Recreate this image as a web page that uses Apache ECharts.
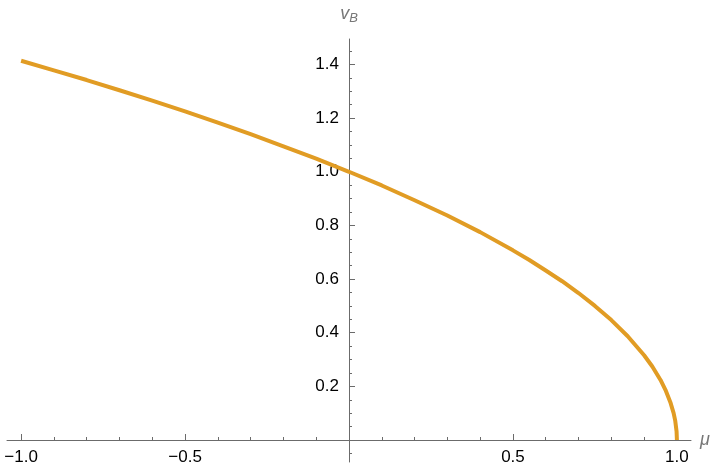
<!DOCTYPE html>
<html>
<head>
<meta charset="utf-8">
<script src="https://cdn.jsdelivr.net/npm/echarts@6/dist/echarts.min.js"></script>
<style>
  html, body { margin: 0; padding: 0; background: #fff; }
  #chart { width: 720px; height: 476px; }
</style>
</head>
<body>
<div id="chart"></div>
<script>
// values
var mu = [-1, -0.9, -0.8, -0.7, -0.6, -0.5, -0.4, -0.3, -0.2, -0.1, 0, 0.1, 0.2, 0.3, 0.4, 0.5, 0.55, 0.6, 0.65, 0.7, 0.75, 0.8, 0.85, 0.9, 0.925, 0.95, 0.965, 0.98, 0.99, 0.995, 0.999, 1];
var vB = [1.414, 1.378, 1.342, 1.304, 1.265, 1.225, 1.183, 1.140, 1.095, 1.049, 1.0, 0.949, 0.894, 0.837, 0.775, 0.707, 0.671, 0.632, 0.592, 0.548, 0.5, 0.447, 0.387, 0.316, 0.274, 0.224, 0.187, 0.141, 0.1, 0.071, 0.032, 0];

// tick labels
var xLabels = [-1, -0.5, 0.5, 1];
var xMajor = [-1, -0.5, 0, 0.5, 1];
var xMinor = [-0.9, -0.8, -0.7, -0.6, -0.4, -0.3, -0.2, -0.1, 0.1, 0.2, 0.3, 0.4, 0.6, 0.7, 0.8, 0.9];
var yLabels = [0.2, 0.4, 0.6, 0.8, 1.0, 1.2, 1.4];
var yMajor = [0, 0.2, 0.4, 0.6, 0.8, 1.0, 1.2, 1.4];
var yMinor = [-0.05, 0.05, 0.1, 0.15, 0.25, 0.3, 0.35, 0.45, 0.5, 0.55, 0.65, 0.7, 0.75, 0.85, 0.9, 0.95, 1.05, 1.1, 1.15, 1.25, 1.3, 1.35, 1.45];

var axisGray = '#6b6b6b';
var font = '"Liberation Sans", Arial, sans-serif';

// where the axes cross (pixels inside the grid)
var xAxisOffset = -22;
var yAxisOffset = -342;

var myChart = echarts.init(document.getElementById('chart'));

function fmt(v) {
  var s = Number(v).toFixed(1);
  return s.replace('-', '\u2212');
}

var option = {
  animation: false,
  grid: { left: 7, right: 29, top: 39, bottom: 14, containLabel: false, outerBoundsMode: 'none' },
  xAxis: [
    {
      type: 'value',
      position: 'bottom',
      offset: xAxisOffset,
      min: -1.043,
      max: 1.043,
      splitLine: { show: false },
      axisLine: { onZero: false, lineStyle: { color: axisGray, width: 1 } },
      axisTick: { show: true, inside: true, length: 6, customValues: xMajor, lineStyle: { color: axisGray } },
      axisLabel: { customValues: xLabels, formatter: fmt, color: '#000', fontSize: 17, fontFamily: font, margin: 9 },
      name: '\u03bc',
      nameLocation: 'end',
      nameGap: 9,
      nameTextStyle: { color: '#777', fontSize: 18, fontStyle: 'italic', fontFamily: font, padding: [4, 0, 0, 0] }
    },
    {
      type: 'value',
      position: 'bottom',
      offset: xAxisOffset,
      min: -1.043,
      max: 1.043,
      splitLine: { show: false },
      axisLine: { show: false, onZero: false },
      axisTick: { show: true, inside: true, length: 3, customValues: xMinor, lineStyle: { color: axisGray } },
      axisLabel: { show: false }
    }
  ],
  yAxis: [
    {
      type: 'value',
      position: 'left',
      offset: yAxisOffset,
      min: -0.082,
      max: 1.495,
      splitLine: { show: false },
      axisLine: { onZero: false, lineStyle: { color: axisGray, width: 1 } },
      axisTick: { show: true, inside: true, length: 6, customValues: yMajor, lineStyle: { color: axisGray } },
      axisLabel: { customValues: yLabels, formatter: fmt, color: '#000', fontSize: 17, fontFamily: font, margin: 10 },
      name: '{v|v}{b|B}',
      nameLocation: 'end',
      nameGap: 14,
      nameTextStyle: {
        rich: {
          v: { color: '#777', fontSize: 18, fontStyle: 'italic', fontFamily: font },
          b: { color: '#777', fontSize: 13, fontStyle: 'italic', fontFamily: font, padding: [9, 0, 0, 0] }
        }
      }
    },
    {
      type: 'value',
      position: 'left',
      offset: yAxisOffset,
      min: -0.082,
      max: 1.495,
      splitLine: { show: false },
      axisLine: { show: false, onZero: false },
      axisTick: { show: true, inside: true, length: 3, customValues: yMinor, lineStyle: { color: axisGray } },
      axisLabel: { show: false }
    }
  ],
  series: [
    {
      type: 'line',
      xAxisIndex: 0,
      yAxisIndex: 0,
      data: mu.map(function (m, i) { return [m, vB[i]]; }),
      showSymbol: false,
      smooth: false,
      lineStyle: { color: '#E19C24', width: 4 },
      z: 1
    }
  ]
};

myChart.setOption(option);
</script>
</body>
</html>
